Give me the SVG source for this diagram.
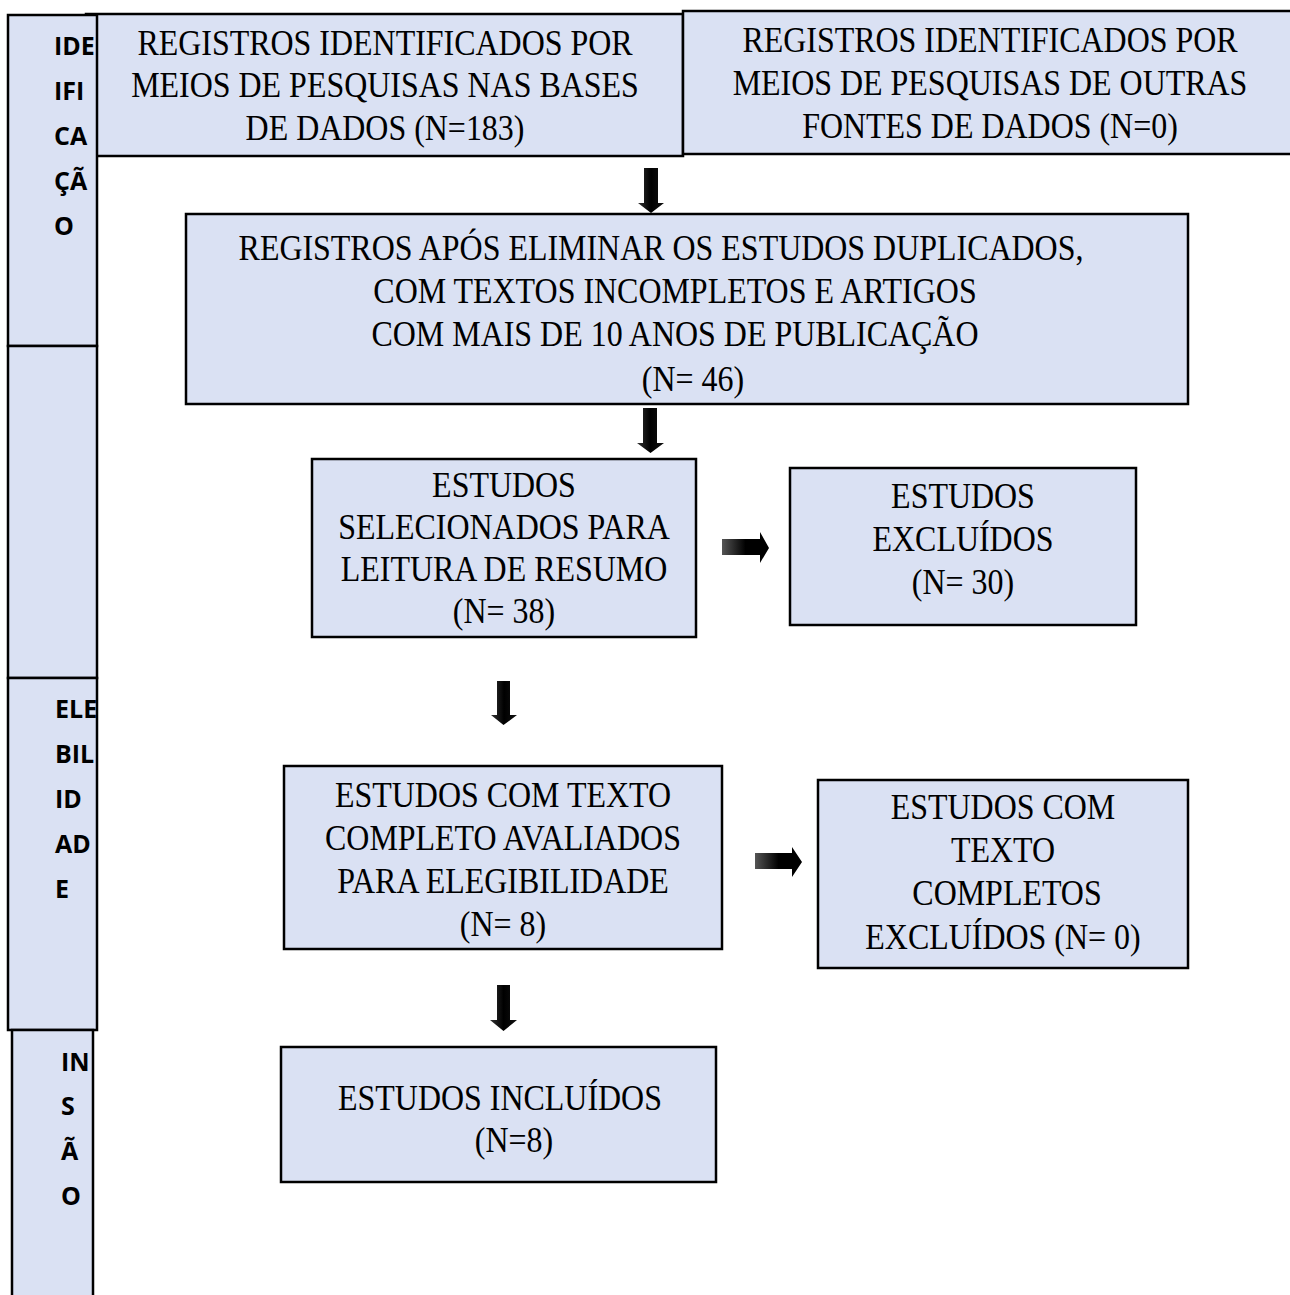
<svg xmlns="http://www.w3.org/2000/svg" width="1290" height="1295" viewBox="0 0 1290 1295">
<defs>
<style>
.box{fill:#DAE1F3;stroke:#000;stroke-width:2.5}
.t{font-family:"Liberation Serif","Times New Roman",serif;font-size:35.5px;fill:#000;text-anchor:middle}
.s{font-family:"Open Sans","Noto Sans",sans-serif;font-weight:bold;font-size:25px;fill:#000}
</style>
<linearGradient id="gd" x1="0" y1="0" x2="1" y2="0">
<stop offset="0" stop-color="#333"/><stop offset="0.5" stop-color="#000"/><stop offset="1" stop-color="#111"/>
</linearGradient>
<linearGradient id="gr" x1="0" y1="0" x2="1" y2="0">
<stop offset="0" stop-color="#555"/><stop offset="0.5" stop-color="#000"/><stop offset="1" stop-color="#000"/>
</linearGradient>
<clipPath id="c1"><rect x="8" y="15" width="89" height="331"/></clipPath>
<clipPath id="c3"><rect x="8" y="678" width="89" height="352"/></clipPath>
<clipPath id="c4"><rect x="12" y="1030" width="81" height="270"/></clipPath>
</defs>
<rect width="1290" height="1295" fill="#fff"/>

<g id="box-bases">
<rect class="box" x="86" y="14" width="597" height="142"/>
<text class="t" transform="translate(385 55) scale(.9 1)">REGISTROS IDENTIFICADOS POR</text>
<text class="t" transform="translate(385 97) scale(.9 1)">MEIOS DE PESQUISAS NAS BASES</text>
<text class="t" transform="translate(385 140) scale(.9 1)">DE DADOS (N=183)</text>
</g>
<g id="box-outras">
<rect class="box" x="683" y="11" width="612" height="143"/>
<text class="t" transform="translate(990 52) scale(.9 1)">REGISTROS IDENTIFICADOS POR</text>
<text class="t" transform="translate(990 95) scale(.9 1)">MEIOS DE PESQUISAS DE OUTRAS</text>
<text class="t" transform="translate(990 138) scale(.9 1)">FONTES DE DADOS (N=0)</text>
</g>

<g id="col-identificacao">
<rect class="box" x="8" y="15" width="89" height="331"/>
<g clip-path="url(#c1)">
<text class="s" x="54" y="55">IDE</text>
<text class="s" x="54" y="100">IFI</text>
<text class="s" x="54" y="145">CA</text>
<text class="s" x="54" y="190">ÇÃ</text>
<text class="s" x="54" y="235">O</text>
</g>
</g>
<g id="col-triagem">
<rect class="box" x="8" y="346" width="89" height="332"/>
</g>
<g id="col-elegibilidade">
<rect class="box" x="8" y="678" width="89" height="352"/>
<g clip-path="url(#c3)">
<text class="s" x="55" y="718">ELE</text>
<text class="s" x="55" y="763">BIL</text>
<text class="s" x="55" y="808">ID</text>
<text class="s" x="55" y="853">AD</text>
<text class="s" x="55" y="898">E</text>
</g>
</g>
<g id="col-inclusao">
<rect class="box" x="12" y="1030" width="81" height="275"/>
<g clip-path="url(#c4)">
<text class="s" x="61" y="1071">IN</text>
<text class="s" x="61" y="1115">S</text>
<text class="s" x="61" y="1160">Ã</text>
<text class="s" x="61" y="1205">O</text>
</g>
</g>

<g id="box-duplicados">
<rect class="box" x="186" y="214" width="1002" height="190"/>
<text class="t" transform="translate(661 260) scale(.9 1)">REGISTROS APÓS ELIMINAR OS ESTUDOS DUPLICADOS,</text>
<text class="t" transform="translate(675 303) scale(.9 1)">COM TEXTOS INCOMPLETOS E ARTIGOS</text>
<text class="t" transform="translate(675 346) scale(.9 1)">COM MAIS DE 10 ANOS DE PUBLICAÇÃO</text>
<text class="t" transform="translate(693 391) scale(.9 1)">(N= 46)</text>
</g>
<g id="box-selecionados">
<rect class="box" x="312" y="459" width="384" height="178"/>
<text class="t" transform="translate(504 497) scale(.9 1)">ESTUDOS</text>
<text class="t" transform="translate(504 539) scale(.9 1)">SELECIONADOS PARA</text>
<text class="t" transform="translate(504 581) scale(.9 1)">LEITURA DE RESUMO</text>
<text class="t" transform="translate(504 623) scale(.9 1)">(N= 38)</text>
</g>
<g id="box-excluidos">
<rect class="box" x="790" y="468" width="346" height="157"/>
<text class="t" transform="translate(963 508) scale(.9 1)">ESTUDOS</text>
<text class="t" transform="translate(963 551) scale(.9 1)">EXCLUÍDOS</text>
<text class="t" transform="translate(963 594) scale(.9 1)">(N= 30)</text>
</g>
<g id="box-elegibilidade">
<rect class="box" x="284" y="766" width="438" height="183"/>
<text class="t" transform="translate(503 807) scale(.9 1)">ESTUDOS COM TEXTO</text>
<text class="t" transform="translate(503 850) scale(.9 1)">COMPLETO AVALIADOS</text>
<text class="t" transform="translate(503 893) scale(.9 1)">PARA ELEGIBILIDADE</text>
<text class="t" transform="translate(503 936) scale(.9 1)">(N= 8)</text>
</g>
<g id="box-completos-excluidos">
<rect class="box" x="818" y="780" width="370" height="188"/>
<text class="t" transform="translate(1003 819) scale(.9 1)">ESTUDOS COM</text>
<text class="t" transform="translate(1003 862) scale(.9 1)">TEXTO</text>
<text class="t" transform="translate(1007 905) scale(.9 1)">COMPLETOS</text>
<text class="t" transform="translate(1003 949) scale(.9 1)">EXCLUÍDOS (N= 0)</text>
</g>
<g id="box-incluidos">
<rect class="box" x="281" y="1047" width="435" height="135"/>
<text class="t" transform="translate(500 1110) scale(.9 1)">ESTUDOS INCLUÍDOS</text>
<text class="t" transform="translate(514 1152) scale(.9 1)">(N=8)</text>
</g>

<g id="connectors">
<path fill="url(#gd)" d="M644 168H658V203H664L651 213L638 203H644Z"/>
<path fill="url(#gd)" d="M643 408H657V443H664L650.5 453L637 443H643Z"/>
<path fill="url(#gd)" d="M497 681H510V715H517L503.5 725L491 715H497Z"/>
<path fill="url(#gd)" d="M497 985H510V1020H517L503.5 1031L490 1020H497Z"/>
<path fill="url(#gr)" d="M722 539H760V532L769 548L760 563V555H722Z"/>
<path fill="url(#gr)" d="M755 853H792V847L802 862L792 877V869H755Z"/>
</g>
</svg>
